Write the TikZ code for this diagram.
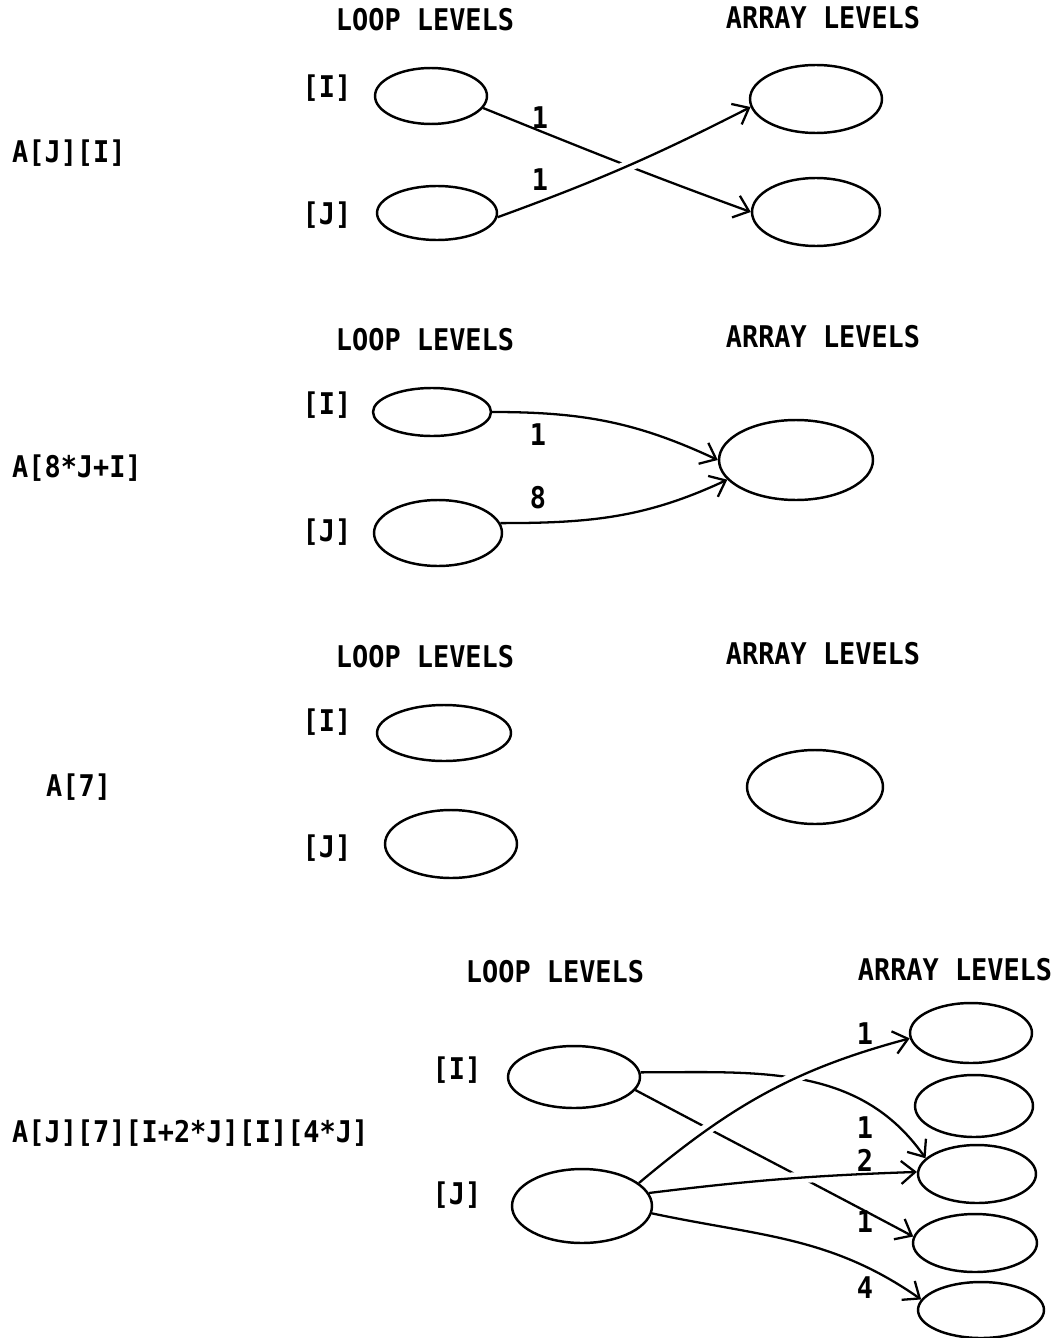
\documentclass[tikz,border=0pt]{standalone}
\usepackage{fontspec}
\setmonofont[FakeStretch=0.9]{DejaVu Sans Mono}
\usetikzlibrary{shapes.geometric, arrows.meta}
\tikzset{
  levelOval/.style={draw, ellipse, line width=1.4pt, inner sep=0pt},
  headText/.style={font=\ttfamily\bfseries\fontsize{17}{20}\selectfont},
  numLabel/.style={font=\ttfamily\bfseries\fontsize{17}{20}\selectfont},
  levelEdge/.style={line width=1.3pt, -{Straight Barb[length=2.8mm, width=4.6mm, line width=1.3pt]}},
  overEdge/.style={levelEdge, preaction={draw=white, line width=6.5pt, -, shorten <=9pt, shorten >=9pt}}
}

\begin{document}
\begin{tikzpicture}[x=0.02cm, y=-0.02cm]
  \useasboundingbox[fill=white] (0,0) rectangle (1056,1338);

  % Panel 1: A[J][I]
  \node[headText] (p1Loop) at (425,20) {LOOP LEVELS};
  \node[headText] (p1Array) at (823,18) {ARRAY LEVELS};
  \node[headText] (p1TagI) at (327,88) {[I]};
  \node[headText] (p1TagJ) at (327,215) {[J]};
  \node[headText, anchor=west] (p1Ref) at (6,153) {A[J][I]};
  \node[levelOval, minimum width=2.24cm, minimum height=1.12cm] (p1LoopI) at (431,96) {};
  \node[levelOval, minimum width=2.4cm, minimum height=1.08cm] (p1LoopJ) at (437,213) {};
  \node[levelOval, minimum width=2.64cm, minimum height=1.36cm] (p1ArrA) at (816,99) {};
  \node[levelOval, minimum width=2.56cm, minimum height=1.36cm] (p1ArrB) at (816,212) {};
  \draw[levelEdge] (p1LoopI.-13) to[out=-22, in=160] (p1ArrB.west);
  \draw[overEdge] (p1LoopJ.-4) to[out=20, in=-153] (p1ArrA.187);
  \node[numLabel] (p1NumI) at (540,118) {1};
  \node[numLabel] (p1NumJ) at (540,180) {1};

  % Panel 2: A[8*J+I]
  \node[headText] (p2Loop) at (425,340) {LOOP LEVELS};
  \node[headText] (p2Array) at (823,337) {ARRAY LEVELS};
  \node[headText] (p2TagI) at (327,405) {[I]};
  \node[headText] (p2TagJ) at (327,532) {[J]};
  \node[headText, anchor=west] (p2Ref) at (6,468) {A[8*J+I]};
  \node[levelOval, minimum width=2.36cm, minimum height=0.96cm] (p2LoopI) at (432,412) {};
  \node[levelOval, minimum width=2.56cm, minimum height=1.32cm] (p2LoopJ) at (438,533) {};
  \node[levelOval, minimum width=3.08cm, minimum height=1.6cm] (p2Arr) at (796,460) {};
  \draw[levelEdge] (p2LoopI.east) to[out=0, in=155] (p2Arr.west);
  \draw[levelEdge] (p2LoopJ.9) to[out=0, in=205] (p2Arr.196);
  \node[numLabel] (p2NumI) at (538,435) {1};
  \node[numLabel] (p2NumJ) at (538,498) {8};

  % Panel 3: A[7], no edges
  \node[headText] (p3Loop) at (425,657) {LOOP LEVELS};
  \node[headText] (p3Array) at (823,654) {ARRAY LEVELS};
  \node[headText] (p3TagI) at (327,722) {[I]};
  \node[headText] (p3TagJ) at (327,848) {[J]};
  \node[headText, anchor=west] (p3Ref) at (40,787) {A[7]};
  \node[levelOval, minimum width=2.68cm, minimum height=1.12cm] (p3LoopI) at (444,733) {};
  \node[levelOval, minimum width=2.64cm, minimum height=1.36cm] (p3LoopJ) at (451,844) {};
  \node[levelOval, minimum width=2.72cm, minimum height=1.48cm] (p3Arr) at (815,787) {};

  % Panel 4: A[J][7][I+2*J][I][4*J]
  \node[headText] (p4Loop) at (555,972) {LOOP LEVELS};
  \node[headText] (p4Array) at (955,970) {ARRAY LEVELS};
  \node[headText] (p4TagI) at (457,1070) {[I]};
  \node[headText] (p4TagJ) at (457,1195) {[J]};
  \node[headText, anchor=west] (p4Ref) at (6,1133) {A[J][7][I+2*J][I][4*J]};
  \node[levelOval, minimum width=2.64cm, minimum height=1.24cm] (p4LoopI) at (574,1077) {};
  \node[levelOval, minimum width=2.8cm, minimum height=1.48cm] (p4LoopJ) at (582,1206) {};
  \node[levelOval, minimum width=2.44cm, minimum height=1.2cm] (p4ArrA) at (971,1033) {};
  \node[levelOval, minimum width=2.36cm, minimum height=1.24cm] (p4ArrB) at (974,1106) {};
  \node[levelOval, minimum width=2.36cm, minimum height=1.16cm] (p4ArrC) at (977,1174) {};
  \node[levelOval, minimum width=2.48cm, minimum height=1.16cm] (p4ArrD) at (975,1243) {};
  \node[levelOval, minimum width=2.52cm, minimum height=1.12cm] (p4ArrE) at (981,1310) {};
  % loop I edges first, loop J edges cut across them
  \draw[levelEdge] (p4LoopI.4) to[out=0, in=125] (p4ArrC.163);
  \draw[levelEdge] (p4LoopI.-12) to[out=-28, in=152] (p4ArrD.174);
  \draw[overEdge] (p4LoopJ.22) to[out=40, in=195] (p4ArrA.185);
  \draw[overEdge] (p4LoopJ.11) to[out=7, in=182] (p4ArrC.178);
  \draw[overEdge] (p4LoopJ.-6) to[out=-12, in=145] (p4ArrE.170);
  \node[numLabel] (p4NumA) at (865,1034) {1};
  \node[numLabel] (p4NumB) at (865,1128) {1};
  \node[numLabel] (p4NumC) at (865,1160) {2};
  \node[numLabel] (p4NumD) at (865,1222) {1};
  \node[numLabel] (p4NumE) at (865,1288) {4};
\end{tikzpicture}
\end{document}
